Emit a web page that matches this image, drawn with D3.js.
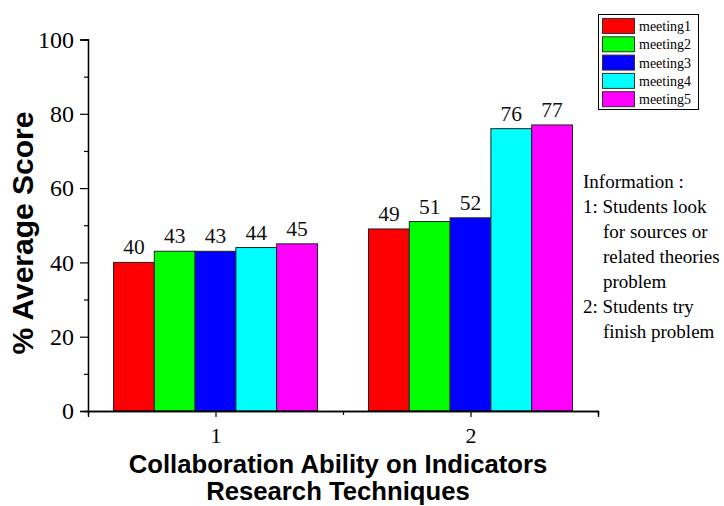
<!DOCTYPE html>
<html>
<head>
<meta charset="utf-8">
<script src="https://cdn.jsdelivr.net/npm/d3@7"></script>
<style>
  html, body { margin: 0; padding: 0; background: #fff; }
  svg { display: block; }
</style>
</head>
<body>
<svg id="chart" width="724" height="506"></svg>
<script>
// Indicator groups on the x axis
const categories = [1, 2];
// Meeting series (legend names and fills)
const seriesNames = ["meeting1", "meeting2", "meeting3", "meeting4", "meeting5"];
const seriesColors = ["#ff0000", "#00ff00", "#0000ff", "#00ffff", "#ff00ff"];
// Average score per meeting, one array per indicator
const indicator1 = [40, 43, 43, 44, 45];
const indicator2 = [49, 51, 52, 76, 77];
const yTicks = [0, 20, 40, 60, 80, 100];
const infoLines = [
  { text: "Information :", indent: 0 },
  { text: "1: Students look", indent: 0 },
  { text: "for sources or", indent: 20 },
  { text: "related theories", indent: 20 },
  { text: "problem", indent: 20 },
  { text: "2: Students try", indent: 0 },
  { text: "finish problem", indent: 20 }
];

const values = [indicator1, indicator2];
const svg = d3.select("#chart");
const serif = "Liberation Serif, Times New Roman, serif";
const sans = "Liberation Sans, Arial, sans-serif";

const x = d3.scaleLinear().domain([0.5, 2.5]).range([88, 598]);
const y = d3.scaleLinear().domain([0, 100]).range([411, 39.5]);
const barW = 0.16;

// Bars with value labels
const groups = svg.append("g");
categories.forEach((c, ci) => {
  values[ci].forEach((v, si) => {
    const x0 = c - 2.5 * barW + si * barW;
    groups.append("rect")
      .attr("x", x(x0))
      .attr("y", y(v))
      .attr("width", x(x0 + barW) - x(x0))
      .attr("height", y(0) - y(v))
      .attr("fill", seriesColors[si])
      .attr("stroke", "#222")
      .attr("stroke-width", 1);
    groups.append("text")
      .attr("x", x(x0 + barW / 2))
      .attr("y", y(v) - 8)
      .attr("text-anchor", "middle")
      .attr("font-family", serif)
      .attr("font-size", 21.5)
      .attr("fill", "#111")
      .text(v);
  });
});

// Y axis with minor ticks
const yAxisG = svg.append("g").attr("transform", "translate(88,0)");
yAxisG.call(d3.axisLeft(y).tickValues(d3.range(10, 100, 20)).tickSize(4).tickFormat(""));
yAxisG.call(g => g.append("g").call(d3.axisLeft(y).tickValues(yTicks).tickSize(8).tickPadding(6)));
yAxisG.selectAll("text").attr("font-family", serif).attr("font-size", 24).attr("fill", "#000");
yAxisG.selectAll("path.domain").attr("stroke", "#000").attr("stroke-width", 1.3);
yAxisG.selectAll("line").attr("stroke", "#000").attr("stroke-width", 1.2);

// X axis
const xAxisG = svg.append("g").attr("transform", "translate(0,411)");
xAxisG.call(d3.axisBottom(x).tickValues([1.5, 2.5]).tickSize(4).tickFormat(""));
xAxisG.call(g => g.append("g").call(d3.axisBottom(x).tickValues(categories).tickSize(6).tickPadding(10).tickFormat(d3.format("d"))));
xAxisG.selectAll("text").attr("font-family", serif).attr("font-size", 22).attr("fill", "#000");
xAxisG.selectAll("path.domain").attr("stroke", "#000").attr("stroke-width", 1.3);
xAxisG.selectAll("line").attr("stroke", "#000").attr("stroke-width", 1.2);

// Axis titles
svg.append("text")
  .attr("transform", "translate(33,233) rotate(-90)")
  .attr("text-anchor", "middle")
  .attr("font-family", sans)
  .attr("font-weight", "bold")
  .attr("font-size", 30)
  .text("% Average Score");
const xTitle = svg.append("text")
  .attr("text-anchor", "middle")
  .attr("font-family", sans)
  .attr("font-weight", "bold")
  .attr("font-size", 25.7);
xTitle.append("tspan").attr("x", 338).attr("y", 473).text("Collaboration Ability on Indicators");
xTitle.append("tspan").attr("x", 338).attr("y", 500).text("Research Techniques");

// Legend
const legend = svg.append("g");
legend.append("rect")
  .attr("x", 598.5).attr("y", 14.5).attr("width", 100).attr("height", 95)
  .attr("fill", "#fff").attr("stroke", "#000").attr("stroke-width", 1);
seriesNames.forEach((name, i) => {
  const ry = 18.5 + i * 18.3;
  legend.append("rect")
    .attr("x", 602.5).attr("y", ry).attr("width", 32).attr("height", 15)
    .attr("fill", seriesColors[i]).attr("stroke", "#333").attr("stroke-width", 1);
  legend.append("text")
    .attr("x", 639).attr("y", ry + 12.5)
    .attr("font-family", serif).attr("font-size", 14)
    .text(name);
});

// Information notes
const info = svg.append("g");
infoLines.forEach((d, i) => {
  info.append("text")
    .attr("x", 583 + d.indent)
    .attr("y", 187.5 + i * 25.1)
    .attr("font-family", serif)
    .attr("font-size", 19)
    .text(d.text);
});
</script>
</body>
</html>
